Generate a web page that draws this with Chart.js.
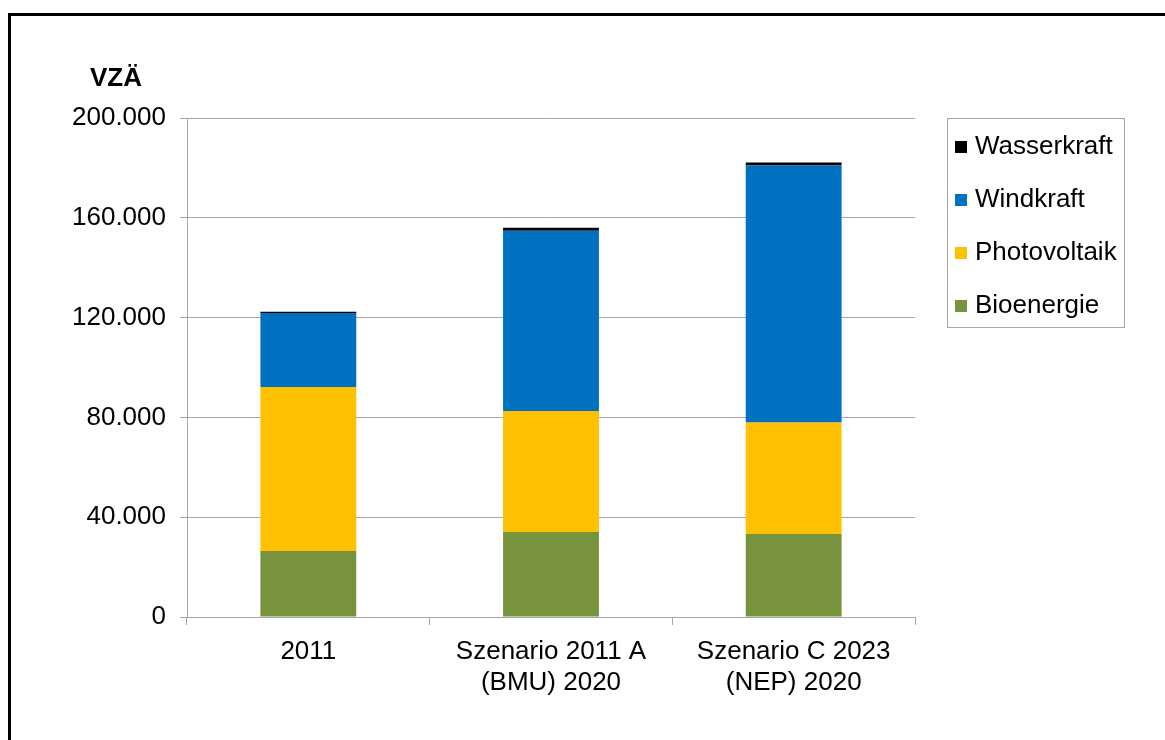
<!DOCTYPE html>
<html>
<head>
<meta charset="utf-8">
<script src="https://cdn.jsdelivr.net/npm/chart.js@4.4.0/dist/chart.umd.min.js"></script>
<style>
    html, body { margin: 0; padding: 0; background: #fff; }
    #wrap { position: relative; width: 1165px; height: 740px; overflow: hidden; }
    #rahmen {
        position: absolute; left: 8px; top: 13px; width: 1200px; height: 800px;
        border-left: 3px solid #000; border-top: 3px solid #000;
    }
    #einheit {
        position: absolute; left: 90px; top: 62px;
        font: bold 26px "Liberation Sans", Arial, sans-serif; color: #000;
    }
    #legende {
        position: absolute; left: 947px; top: 118px; width: 178px; height: 210px;
        border: 1px solid #a6a6a6; box-sizing: border-box;
        font: 26px "Liberation Sans", Arial, sans-serif; color: #000;
    }
    .eintrag { position: absolute; left: 7px; height: 30px; line-height: 30px; white-space: nowrap; }
    .eintrag span.box { display: inline-block; width: 12px; height: 12px; margin-right: 8px; vertical-align: 1px; }
    canvas { position: absolute; left: 0; top: 0; }
</style>
</head>
<body>
<div id="wrap">
    <div id="rahmen"></div>
    <canvas id="grafik" width="1165" height="740"></canvas>
    <div id="einheit">VZÄ</div>
    <div id="legende"></div>
</div>
<script>
// Kategorien und Werte (VZÄ)
const kategorien = [['2011'], ['Szenario 2011 A', '(BMU) 2020'], ['Szenario C 2023', '(NEP) 2020']];
const bioenergie = [26500, 34100, 33300];
const photovoltaik = [65700, 48500, 44700];
const windkraft = [29600, 72200, 103000];
const wasserkraft = [500, 1200, 1200];
const yTicks = [0, 40000, 80000, 120000, 160000, 200000];

const reihen = [
    { label: 'Bioenergie', data: bioenergie, color: '#77933C' },
    { label: 'Photovoltaik', data: photovoltaik, color: '#FFC000' },
    { label: 'Windkraft', data: windkraft, color: '#0070C0' },
    { label: 'Wasserkraft', data: wasserkraft, color: '#000000' }
];

const schrift = { family: '"Liberation Sans", Arial, sans-serif', size: 26 };
const grau = '#a6a6a6';

const ctx = document.getElementById('grafik').getContext('2d');
new Chart(ctx, {
    type: 'bar',
    data: {
        labels: kategorien,
        datasets: reihen.map(r => ({
            label: r.label,
            data: r.data,
            backgroundColor: r.color,
            borderWidth: 0,
            categoryPercentage: 1,
            barPercentage: 0.395
        }))
    },
    options: {
        responsive: false,
        animation: false,
        layout: { padding: { top: 118, right: 250, left: 0, bottom: 0 } },
        plugins: {
            legend: { display: false },
            tooltip: { enabled: false }
        },
        scales: {
            x: {
                stacked: true,
                grid: { offset: true, drawOnChartArea: false, drawTicks: true, tickLength: 8, color: grau },
                border: { color: grau, width: 1 },
                ticks: { color: '#000', font: { ...schrift, lineHeight: 1.2 }, padding: 11, maxRotation: 0, autoSkip: false },
                afterFit: s => { s.height = 123; }
            },
            y: {
                stacked: true,
                min: 0,
                max: 200000,
                afterBuildTicks: s => { s.ticks = yTicks.map(v => ({ value: v })); },
                grid: { color: grau, tickLength: 7 },
                border: { color: grau, width: 1 },
                ticks: {
                    color: '#000',
                    font: schrift,
                    padding: 14,
                    callback: v => v.toLocaleString('de-DE')
                },
                afterFit: s => { s.width = 187; }
            }
        }
    }
});

// Legende (umgekehrte Reihenfolge)
const legende = document.getElementById('legende');
reihen.slice().reverse().forEach((r, i) => {
    const d = document.createElement('div');
    d.className = 'eintrag';
    d.style.top = (11 + i * 53) + 'px';
    d.innerHTML = '<span class="box" style="background:' + r.color + '"></span>' + r.label;
    legende.appendChild(d);
});
</script>
</body>
</html>
